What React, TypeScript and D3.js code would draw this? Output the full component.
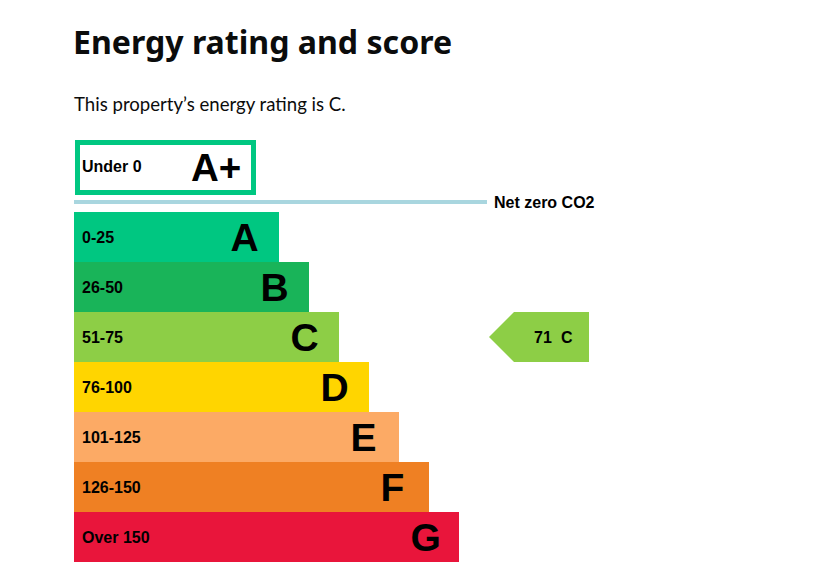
import React, { useEffect } from "react";
import * as d3 from "d3";

const letters = ["A", "B", "C", "D", "E", "F", "G"];
const ranges = ["0-25", "26-50", "51-75", "76-100", "101-125", "126-150", "Over 150"];
const colors = ["#00c781", "#19b459", "#8dce46", "#ffd500", "#fcaa65", "#ef8023", "#e9153b"];
const topBand = { letter: "A+", range: "Under 0" };
const currentScore = 71;
const currentRating = "C";
const title = "Energy rating and score";
const subtitle = "This property\u2019s energy rating is C.";
const netZeroLabel = "Net zero CO2";

const W = 813;
const H = 574;
const left = 74;

export default function App() {
  useEffect(() => {
    document.body.style.margin = "0";
  }, []);

  const y = d3.scaleBand<string>().domain(letters).range([212, 562]).paddingInner(0).paddingOuter(0);
  const barEnd = d3.scaleLinear().domain([0, letters.length - 1]).range([279, 459]);
  const bh = y.bandwidth();
  const labelFont = "'Liberation Sans', Arial, sans-serif";

  const cy = (y(currentRating) as number) + bh / 2;
  const arrowRight = 589;
  const arrowTip = 489;
  const notch = 514;
  const ay0 = y(currentRating) as number;
  const arrowPath = d3.path();
  arrowPath.moveTo(arrowTip, cy);
  arrowPath.lineTo(notch, ay0);
  arrowPath.lineTo(arrowRight, ay0);
  arrowPath.lineTo(arrowRight, ay0 + bh);
  arrowPath.lineTo(notch, ay0 + bh);
  arrowPath.closePath();
  const ratingIdx = letters.indexOf(currentRating);

  return (
    <svg width={W} height={H} style={{ display: "block" }}>
      <rect x={0} y={0} width={W} height={H} fill="#ffffff" />
      <text x={left - 1} y={54} fontFamily="'Noto Sans', Lato, sans-serif" fontWeight={700} fontSize={32.1} fill="#0b0c0c">
        {title}
      </text>
      <text x={left} y={111} fontFamily="Lato, 'Noto Sans', sans-serif" fontSize={18.6} fill="#0b0c0c">
        {subtitle}
      </text>

      {/* A+ band */}
      <rect x={77.5} y={142.5} width={176} height={50} fill="#ffffff" stroke={colors[0]} strokeWidth={5} />
      <text x={82} y={172} fontFamily={labelFont} fontWeight={700} fontSize={16} fill="#000">
        {topBand.range}
      </text>
      <text x={191} y={181} fontFamily={labelFont} fontWeight={700} fontSize={38.5} fill="#000">
        {topBand.letter}
      </text>

      {/* net zero line */}
      <line x1={left} x2={487} y1={202} y2={202} stroke="#a9d6df" strokeWidth={4} />
      <text x={494} y={207.5} fontFamily={labelFont} fontWeight={700} fontSize={16} fill="#000">
        {netZeroLabel}
      </text>

      {letters.map((l, i) => {
        const y0 = y(l) as number;
        const xe = barEnd(i);
        return (
          <g key={l}>
            <rect x={left} y={y0} width={xe - left} height={bh} fill={colors[i]} />
            <text x={82} y={y0 + bh / 2 + 5.5} fontFamily={labelFont} fontWeight={700} fontSize={16} fill="#000">
              {ranges[i]}
            </text>
            <text x={xe - 48.5} y={y0 + bh / 2 + 14} fontFamily={labelFont} fontWeight={700} fontSize={39} fill="#000">
              {l}
            </text>
          </g>
        );
      })}

      <path d={arrowPath.toString()} fill={colors[ratingIdx]} />
      <text x={534} y={342.5} fontFamily={labelFont} fontWeight={700} fontSize={16} fill="#000">
        {String(currentScore)}
      </text>
      <text x={561} y={342.5} fontFamily={labelFont} fontWeight={700} fontSize={16} fill="#000">
        {currentRating}
      </text>
    </svg>
  );
}
